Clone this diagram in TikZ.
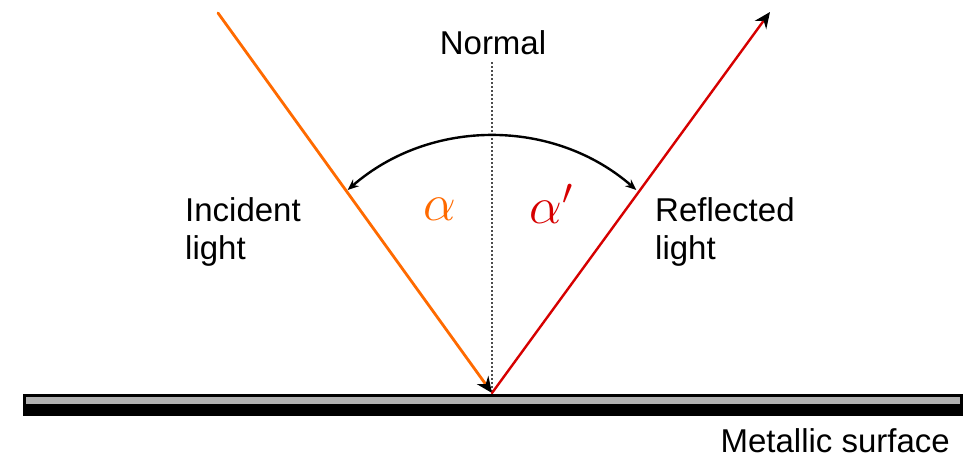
\documentclass[tikz,border=0pt]{standalone}
\usepackage{fix-cm}
\usepackage{fontspec}
\setmainfont{Liberation Sans}
\usetikzlibrary{arrows.meta}
\definecolor{incid}{RGB}{255,106,0}
\definecolor{refl}{RGB}{214,0,0}
\definecolor{metalgray}{RGB}{176,176,176}
\begin{document}
\begin{tikzpicture}[x=1pt,y=-1pt,
  lbl/.style={font=\fontsize{33}{38}\selectfont, inner sep=0pt, align=left},
  greek/.style={font=\fontsize{52}{52}\selectfont, inner sep=0pt},
  ray/.style={line width=2.8pt, line cap=round},
  tipblack/.style={-{Stealth[length=16pt,width=14pt,color=black]}}
]
\useasboundingbox (0,0) rectangle (971,461);
% surface
\coordinate (hit) at (492,393);
\fill[black] (23,394) rectangle (963,416);
\fill[metalgray] (26,397) rectangle (960,403.5);
% normal
\coordinate (ntop) at (492,62);
\draw[line width=1.4pt, black!70, dash pattern=on 2pt off 2pt] (ntop) -- (hit);
% rays
\coordinate (src) at (218,13);
\coordinate (dst) at (770,12);
\draw[ray, incid, tipblack] (src) -- (hit);
\draw[ray, refl, line width=2.4pt, tipblack] (hit) -- (dst);
% angle arc
\coordinate (arcc) at (492,356);
\draw[line width=2.4pt, {Stealth[length=11pt,width=9pt]}-{Stealth[length=11pt,width=9pt]}]
  ([shift={(131:220 and -220)}]arcc) arc[start angle=-131, end angle=-49, radius=220];
% labels
\node[lbl, anchor=center] (normal) at (493,43) {Normal};
\node[lbl, anchor=north west] (inc) at (185,197) {Incident\\light};
\node[lbl, anchor=north west] (ref) at (655,197) {Reflected\\light};
\node[lbl, anchor=base east] (metal) at (950,452) {Metallic surface};
\node[greek, text=incid] (alpha) at (440,209) {$\alpha$};
\node[greek, text=refl] (alphap) at (551,204) {$\alpha'$};
\end{tikzpicture}
\end{document}
